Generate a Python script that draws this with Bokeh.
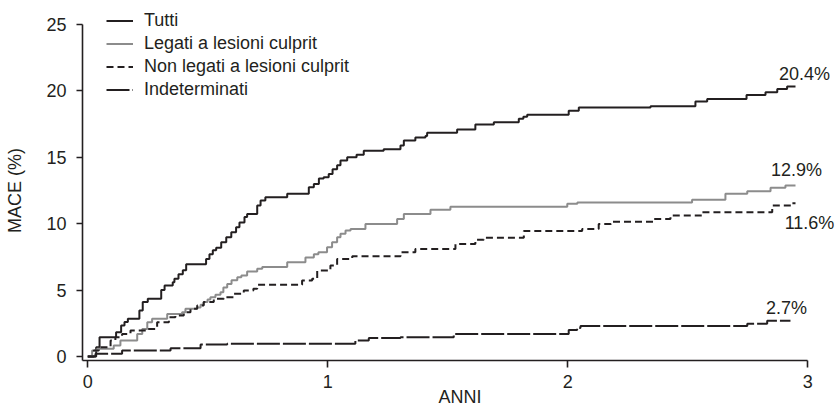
import numpy as np
from bokeh.plotting import figure
from bokeh.models import Range1d, Legend, LegendItem, Label, FixedTicker
from bokeh.embed import file_html
from bokeh.resources import INLINE

# ---------------- data (years, cumulative MACE %) ----------------
series_names = ["Tutti", "Legati a lesioni culprit", "Non legati a lesioni culprit", "Indeterminati"]
end_labels = ["20.4%", "12.9%", "11.6%", "2.7%"]

tutti_t = [0, 0.035, 0.049, 0.118, 0.139, 0.153, 0.167, 0.215, 0.229, 0.25,
           0.306, 0.32, 0.354, 0.361, 0.378, 0.396, 0.41, 0.493, 0.507, 0.521,
           0.535, 0.556, 0.577, 0.598, 0.618, 0.632, 0.653, 0.664, 0.706, 0.72,
           0.74, 0.831, 0.921, 0.942, 0.963, 0.983, 1.004, 1.02, 1.039, 1.053,
           1.081, 1.12, 1.15, 1.233, 1.303, 1.317, 1.365, 1.407, 1.414, 1.539,
           1.615, 1.692, 1.796, 1.815, 1.831, 2.004, 2.046, 2.345, 2.532, 2.581,
           2.745, 2.824, 2.873, 2.914, 2.949]
tutti_v = [0, 0.7, 1.45, 1.83, 2.33, 2.6, 2.84, 3.46, 4.1, 4.35,
           5.0, 5.35, 5.6, 5.85, 6.2, 6.5, 6.95, 7.35, 7.7, 8.0,
           8.2, 8.6, 8.98, 9.36, 9.73, 10.1, 10.5, 10.74, 11.37, 11.75,
           12.0, 12.25, 12.75, 13.0, 13.4, 13.5, 13.75, 14.1, 14.4, 14.76,
           15.0, 15.2, 15.5, 15.6, 15.9, 16.27, 16.5, 16.6, 16.85, 17.1,
           17.47, 17.65, 17.9, 18.05, 18.2, 18.5, 18.75, 18.85, 19.2, 19.4,
           19.7, 19.9, 20.15, 20.33, 20.33]

legati_t = [0, 0.018, 0.039, 0.108, 0.136, 0.206, 0.227, 0.248, 0.268, 0.331,
            0.393, 0.407, 0.456, 0.47, 0.483, 0.499, 0.511, 0.532, 0.553, 0.565,
            0.581, 0.599, 0.623, 0.64, 0.664, 0.706, 0.727, 0.831, 0.907, 0.942,
            0.961, 0.997, 1.018, 1.039, 1.053, 1.074, 1.095, 1.157, 1.289, 1.317,
            1.428, 1.511, 1.998, 2.04, 2.518, 2.657, 2.748, 2.845, 2.907, 2.949]
legati_v = [0, 0.45, 0.58, 0.83, 1.2, 1.7, 2.08, 2.58, 2.84, 3.2,
            3.33, 3.59, 3.7, 3.9, 4.1, 4.3, 4.47, 4.65, 4.84, 5.2,
            5.47, 5.75, 5.97, 6.1, 6.4, 6.6, 6.75, 7.1, 7.45, 7.7,
            7.85, 8.23, 8.6, 8.98, 9.24, 9.49, 9.6, 9.98, 10.36, 10.74,
            11.05, 11.27, 11.5, 11.6, 11.8, 12.25, 12.45, 12.7, 12.88, 12.88]

nonleg_t = [0, 0.025, 0.046, 0.095, 0.115, 0.143, 0.178, 0.248, 0.289, 0.338,
            0.365, 0.4, 0.428, 0.456, 0.483, 0.525, 0.567, 0.608, 0.65, 0.69,
            0.706, 0.893, 0.935, 0.956, 1.011, 1.039, 1.102, 1.303, 1.365, 1.532,
            1.615, 1.65, 1.817, 2.06, 2.129, 2.18, 2.358, 2.428, 2.56, 2.852,
            2.935, 2.949]
nonleg_v = [0, 0.45, 0.7, 1.2, 1.45, 1.7, 1.96, 2.08, 2.58, 2.96,
            3.08, 3.33, 3.59, 3.84, 4.1, 4.35, 4.47, 4.72, 4.97, 5.1,
            5.4, 5.72, 5.85, 6.47, 6.85, 7.35, 7.55, 7.85, 8.1, 8.48,
            8.79, 8.95, 9.45, 9.6, 9.98, 10.15, 10.36, 10.62, 10.87, 11.37,
            11.55, 11.55]

indet_t = [0, 0.032, 0.143, 0.345, 0.47, 0.581, 1.115, 1.171, 1.303, 1.525,
           2.004, 2.039, 2.053, 2.748, 2.831, 2.928]
indet_v = [0, 0.2, 0.45, 0.63, 0.9, 0.97, 1.2, 1.4, 1.45, 1.7,
           2.0, 2.15, 2.3, 2.46, 2.7, 2.7]

x_ticks = [0, 1, 2, 3]
y_ticks = [0, 5, 10, 15, 20, 25]
x_title = "ANNI"
y_title = "MACE (%)"

# ---------------- styling ----------------
INK = "#231f20"
GRAY = "#8c8c8c"
FONT = "Liberation Sans"
FS = "18px"

X0, X1 = -0.022, 3.124
Y0, Y1 = -0.3, 26.81
FRAME_W, FRAME_H = 755, 360
PX_X = FRAME_W / (X1 - X0)
PX_Y = FRAME_H / (Y1 - Y0)

p = figure(width=837, height=409, x_range=Range1d(X0, X1), y_range=Range1d(Y0, Y1),
           output_backend="svg", toolbar_location=None,
           min_border_left=82, min_border_right=0, min_border_top=0, min_border_bottom=49)
p.outline_line_color = None
p.xgrid.visible = False
p.ygrid.visible = False
p.background_fill_color = "white"
p.border_fill_color = "white"

for ax, ticks, tick_out, bounds, standoff in ((p.xaxis[0], x_ticks, 7, (X0, 3), 7),
                                              (p.yaxis[0], y_ticks, 6, (Y0, 25), 10)):
    ax.ticker = FixedTicker(ticks=ticks)
    ax.bounds = bounds
    ax.axis_line_color = INK
    ax.axis_line_width = 1.6
    ax.major_tick_line_color = INK
    ax.major_tick_line_width = 1.6
    ax.major_tick_out = tick_out
    ax.major_tick_in = 0
    ax.minor_tick_line_color = None
    ax.major_label_text_font = FONT
    ax.major_label_text_font_size = FS
    ax.major_label_text_color = INK
    ax.major_label_standoff = standoff
    ax.axis_label_text_font = FONT
    ax.axis_label_text_font_size = FS
    ax.axis_label_text_font_style = "normal"
    ax.axis_label_text_color = INK

# axis titles; non-breaking spaces after the y title nudge it down to match the reference
p.yaxis.axis_label = y_title + "\u00a0" * 4
p.yaxis.axis_label_standoff = 18
p.xaxis.axis_label = x_title
p.xaxis.axis_label_text_line_height = 0.6
p.xaxis.axis_label_standoff = -4

styles = [
    dict(line_color=INK, line_width=2, line_dash="solid"),
    dict(line_color=GRAY, line_width=2, line_dash="solid"),
    dict(line_color=INK, line_width=2, line_dash="7 4"),
    dict(line_color=INK, line_width=2, line_dash="23 3"),
]
data = [(tutti_t, tutti_v), (legati_t, legati_v), (nonleg_t, nonleg_v), (indet_t, indet_v)]

renderers = []
for (t, v), st in zip(data, styles):
    assert len(t) == len(v)
    r = p.step(x=t, y=v, mode="after", **st)
    renderers.append(r)

legend = Legend(items=[LegendItem(label=n, renderers=[r]) for n, r in zip(series_names, renderers)],
                location=(24, FRAME_H - 9.2 - 92))
legend.border_line_color = None
legend.background_fill_alpha = 0
legend.padding = 0
legend.margin = 0
legend.spacing = 0
legend.glyph_width = 27
legend.glyph_height = 23
legend.label_height = 23
legend.label_standoff = 11
legend.label_text_font = FONT
legend.label_text_font_size = FS
legend.label_text_color = INK
p.add_layout(legend)

# end-of-curve labels (offsets in screen pixels from each curve's last point)
offsets = [(9, 13), (1, 15), (14, -20), (-4, 13)]
for (t, v), txt, (dx, dy) in zip(data, end_labels, offsets):
    p.add_layout(Label(x=t[-1] + dx / PX_X, y=v[-1] + dy / PX_Y, text=txt,
                       text_align="center", text_baseline="middle",
                       text_font=FONT, text_font_size=FS, text_color=INK))

open("out.html", "w").write(file_html(p, INLINE))
